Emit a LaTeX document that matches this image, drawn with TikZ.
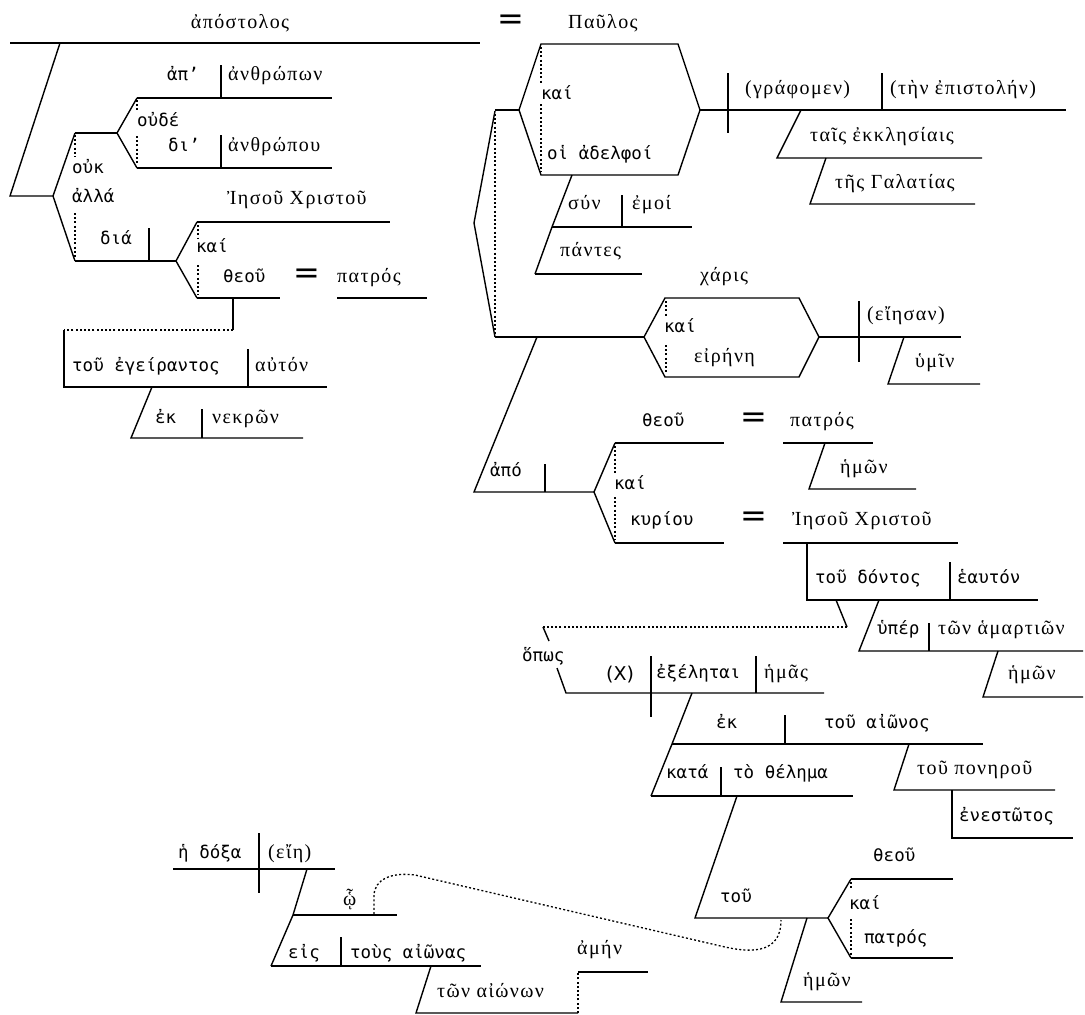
\documentclass[tikz,border=0pt]{standalone}
\usepackage{fontspec}
\newfontfamily\gsansfam{DejaVu Sans Mono}
\newfontfamily\gserfam[LetterSpace=7]{Liberation Serif}
\newfontfamily\plainsans{DejaVu Sans}
\begin{document}
\begin{tikzpicture}[x=1pt,y=-1pt,
  ln/.style={line width=1.4pt},
  dl/.style={line width=1.3pt, dash pattern=on 2pt off 2.2pt},
  sw/.style={anchor=base west, inner sep=0pt, font={\gsansfam\fontsize{17.5}{21}\selectfont}},
  rw/.style={anchor=base west, inner sep=0pt, font={\gserfam\fontsize{20}{24}\selectfont}},
  eqs/.style={inner sep=0pt, font={\plainsans\fontsize{32}{34}\selectfont}}]
\useasboundingbox (0,0) rectangle (1085,1015);

% ---------- subject: apostolos = Paulos ----------
\node[rw, anchor=base] (apostolos) at (240,28) {ἀπόστολος};
\node[eqs] (eq1) at (511,22) {=};
\node[rw] (paulos) at (568,28) {Παῦλος};
\draw[ln] (10,43) -- (480,43);
\draw[ln] (60,43) -- (10,196) -- (53,196);
\draw[ln] (75,133) -- (53,196) -- (75,261);
\draw[dl] (75,135) -- (75,157);
\draw[dl] (75,213) -- (75,258);
\node[sw] (ouk) at (72,173) {οὐκ};
\node[sw] (alla) at (72,202) {ἀλλά};

% ouk ap' anthropon oude di' anthropou
\draw[ln] (75,133) -- (117,133);
\draw[ln] (137,98) -- (117,133) -- (137,168);
\draw[dl] (137,100) -- (137,110);
\draw[dl] (137,136) -- (137,165);
\node[sw] (oude) at (137,126) {οὐδέ};
\draw[ln] (137,98) -- (332,98);
\draw[ln] (221,65) -- (221,98);
\node[sw] (ap) at (167,80) {ἀπ’};
\node[rw] (anthropon) at (228,80) {ἀνθρώπων};
\draw[ln] (137,168) -- (332,168);
\draw[ln] (221,135) -- (221,168);
\node[sw] (di) at (168,151) {δι’};
\node[rw] (anthropou) at (228,151) {ἀνθρώπου};

% alla dia Iesou Christou kai theou patros
\draw[ln] (75,261) -- (176,261);
\draw[ln] (149,228) -- (149,261);
\node[sw] (dia) at (100,244) {διά};
\draw[ln] (197,222) -- (176,261) -- (197,298);
\draw[ln] (197,222) -- (390,222);
\node[rw] (iesou1) at (227,204) {Ἰησοῦ Χριστοῦ};
\draw[dl] (198,225) -- (198,238);
\draw[dl] (198,265) -- (198,295);
\node[sw] (kai1) at (196,252) {καί};
\draw[ln] (197,298) -- (280,298);
\node[sw] (theou1) at (223,282) {θεοῦ};
\node[eqs] (eq2) at (307,276) {=};
\node[rw] (patros1) at (337,282) {πατρός};
\draw[ln] (337,298) -- (427,298);

% tou egeirantos auton ek nekron
\draw[ln] (233,298) -- (233,330);
\draw[dl] (233,330) -- (64,330);
\draw[ln] (64,330) -- (64,387) -- (327,387);
\draw[ln] (248,349) -- (248,387);
\node[sw] (egeirantos) at (72,371) {τοῦ ἐγείραντος};
\node[rw] (auton) at (255,371) {αὐτόν};
\draw[ln] (152,387) -- (131,438) -- (303,438);
\draw[ln] (202,409) -- (202,438);
\node[sw] (ek1) at (155,423) {ἐκ};
\node[rw] (nekron) at (212,423) {νεκρῶν};

% ---------- kai hoi adelphoi, (graphomen) ----------
\draw[ln] (495,110) -- (519,110);
\draw[ln] (519,110) -- (541,44) -- (678,44) -- (700,110) -- (678,175) -- (541,175) -- cycle;
\draw[dl] (541,47) -- (541,84);
\draw[dl] (541,104) -- (541,172);
\node[sw] (kai2) at (541,99) {καί};
\node[sw] (adelphoi) at (547,159) {οἱ ἀδελφοί};
\draw[ln] (700,110) -- (1066,110);
\draw[ln] (728,73) -- (728,133);
\draw[ln] (882,73) -- (882,110);
\node[rw] (graphomen) at (745,94) {(γράφομεν)};
\node[rw] (epistolen) at (890,94) {(τὴν ἐπιστολήν)};
\draw[ln] (801,110) -- (777,158) -- (982,158);
\node[rw] (ekklesiais) at (810,141) {ταῖς ἐκκλησίαις};
\draw[ln] (826,158) -- (810,204) -- (975,204);
\node[rw] (galatias) at (835,188) {τῆς Γαλατίας};
\draw[ln] (572,175) -- (552,227) -- (535,274);
\draw[ln] (552,227) -- (692,227);
\draw[ln] (622,195) -- (622,227);
\node[rw] (syn) at (568,209) {σύν};
\node[rw] (emoi) at (632,209) {ἐμοί};
\draw[ln] (535,274) -- (642,274);
\node[rw] (pantes) at (560,256) {πάντες};

% ---------- charis kai eirene (eiesan) hymin ----------
\draw[ln] (495,111) -- (474,223) -- (495,337);
\draw[dl] (495,114) -- (495,334);
\draw[ln] (495,337) -- (644,337);
\draw[ln] (644,337) -- (665,298) -- (799,298) -- (819,337) -- (799,377) -- (665,377) -- cycle;
\node[rw] (charis) at (700,281) {χάρις};
\draw[dl] (666,301) -- (666,316);
\draw[dl] (666,345) -- (666,374);
\node[sw] (kai3) at (664,332) {καί};
\node[rw] (eirene) at (694,362) {εἰρήνη};
\draw[ln] (819,337) -- (961,337);
\draw[ln] (859,301) -- (859,362);
\node[rw] (eiesan) at (867,320) {(εἴησαν)};
\draw[ln] (904,337) -- (888,384) -- (980,384);
\node[rw] (hymin) at (915,367) {ὑμῖν};

% apo theou patros hemon kai kyriou Iesou Christou
\draw[ln] (537,337) -- (474,492) -- (594,492);
\draw[ln] (545,464) -- (545,492);
\node[sw] (apo) at (490,476) {ἀπό};
\draw[ln] (615,443) -- (594,492) -- (615,543);
\draw[dl] (615,446) -- (615,474);
\draw[dl] (615,497) -- (615,540);
\node[sw] (kai4) at (614,489) {καί};
\draw[ln] (615,443) -- (724,443);
\node[sw] (theou2) at (642,426) {θεοῦ};
\node[eqs] (eq3) at (754,420) {=};
\node[rw] (patros2) at (790,426) {πατρός};
\draw[ln] (783,443) -- (873,443);
\draw[ln] (825,443) -- (809,489) -- (916,489);
\node[rw] (hemon1) at (840,473) {ἡμῶν};
\draw[ln] (615,543) -- (724,543);
\node[sw] (kyriou) at (630,525) {κυρίου};
\node[eqs] (eq4) at (754,519) {=};
\node[rw] (iesou2) at (792,525) {Ἰησοῦ Χριστοῦ};
\draw[ln] (783,543) -- (958,543);

% tou dontos heauton hyper ton hamartion hemon
\draw[ln] (807,543) -- (807,600) -- (1038,600);
\draw[ln] (950,562) -- (950,600);
\node[sw] (dontos) at (815,583) {τοῦ δόντος};
\node[sw] (heauton) at (957,583) {ἑαυτόν};
\draw[ln] (879,600) -- (859,651) -- (1083,651);
\draw[ln] (929,623) -- (929,651);
\node[sw] (hyper) at (877,634) {ὑπέρ};
\node[rw] (hamartion) at (938,634) {τῶν ἁμαρτιῶν};
\draw[ln] (998,651) -- (983,697) -- (1083,697);
\node[rw] (hemon2) at (1008,679) {ἡμῶν};

% ---------- hopos (X) exeletai hemas ----------
\draw[ln] (836,600) -- (847,627);
\draw[dl] (847,627) -- (543,627);
\draw[ln] (543,627) -- (549,641);
\node[sw] (hopos) at (522,661) {ὅπως};
\draw[ln] (557,668) -- (566,693) -- (824,693);
\draw[ln] (651,656) -- (651,717);
\draw[ln] (756,656) -- (756,693);
\node[inner sep=0pt, anchor=base west, font={\plainsans\fontsize{19}{22}\selectfont}] (xsubj) at (606,680) {(X)};
\node[sw] (exeletai) at (656,678) {ἐξέληται};
\node[rw] (hemas) at (764,678) {ἡμᾶς};
\draw[ln] (692,693) -- (672,744) -- (651,796);
\draw[ln] (672,744) -- (983,744);
\draw[ln] (785,715) -- (785,744);
\node[sw] (ek2) at (716,728) {ἐκ};
\node[sw] (aionos) at (824,728) {τοῦ αἰῶνος};
\draw[ln] (909,744) -- (894,790) -- (1055,790);
\node[rw] (ponerou) at (917,774) {τοῦ πονηροῦ};
\draw[ln] (952,790) -- (952,838) -- (1073,838);
\node[sw] (enestotos) at (959,821) {ἐνεστῶτος};
\draw[ln] (651,796) -- (853,796);
\draw[ln] (721,767) -- (721,796);
\node[sw] (kata) at (666,778) {κατά};
\node[sw] (thelema) at (733,778) {τὸ θέλημα};

% tou theou kai patros hemon
\draw[ln] (737,796) -- (695,918) -- (828,918);
\node[sw] (tou) at (720,902) {τοῦ};
\draw[ln] (851,879) -- (828,918) -- (851,958);
\draw[ln] (851,879) -- (953,879);
\draw[ln] (851,958) -- (953,958);
\draw[dl] (851,882) -- (851,890);
\draw[dl] (851,919) -- (851,955);
\node[sw] (theou3) at (873,861) {θεοῦ};
\node[sw] (kai5) at (849,909) {καί};
\node[sw] (patros3) at (864,943) {πατρός};
\draw[ln] (807,918) -- (781,1002) -- (862,1002);
\node[rw] (hemon3) at (803,986) {ἡμῶν};

% ---------- he doxa (eie) ho eis tous aionas ton aionon amen ----------
\draw[ln] (173,869) -- (335,869);
\draw[ln] (259,833) -- (259,893);
\node[sw] (doxa) at (178,858) {ἡ δόξα};
\node[rw] (eie) at (268,858) {(εἴη)};
\draw[ln] (307,869) -- (293,915) -- (271,966);
\draw[ln] (293,915) -- (397,915);
\node[rw] (ho) at (343,905) {ᾧ};
\draw[ln] (271,966) -- (481,966);
\draw[ln] (341,937) -- (341,966);
\node[sw] (eis) at (288,958) {εἰς};
\node[sw] (aionas) at (350,958) {τοὺς αἰῶνας};
\draw[ln] (431,966) -- (416,1013) -- (578,1013);
\node[rw] (aionon) at (437,997) {τῶν αἰώνων};
\draw[dl] (578,1013) -- (578,972);
\draw[ln] (578,972) -- (648,972);
\node[rw] (amen) at (577,954) {ἀμήν};

% relative pronoun linked back to tou theou
\draw[dl] (374,914) -- (374,896) .. controls (374,879) and (392,872) .. (415,875)
  -- (725,947) .. controls (765,956) and (781,945) .. (781,920);
\end{tikzpicture}
\end{document}
